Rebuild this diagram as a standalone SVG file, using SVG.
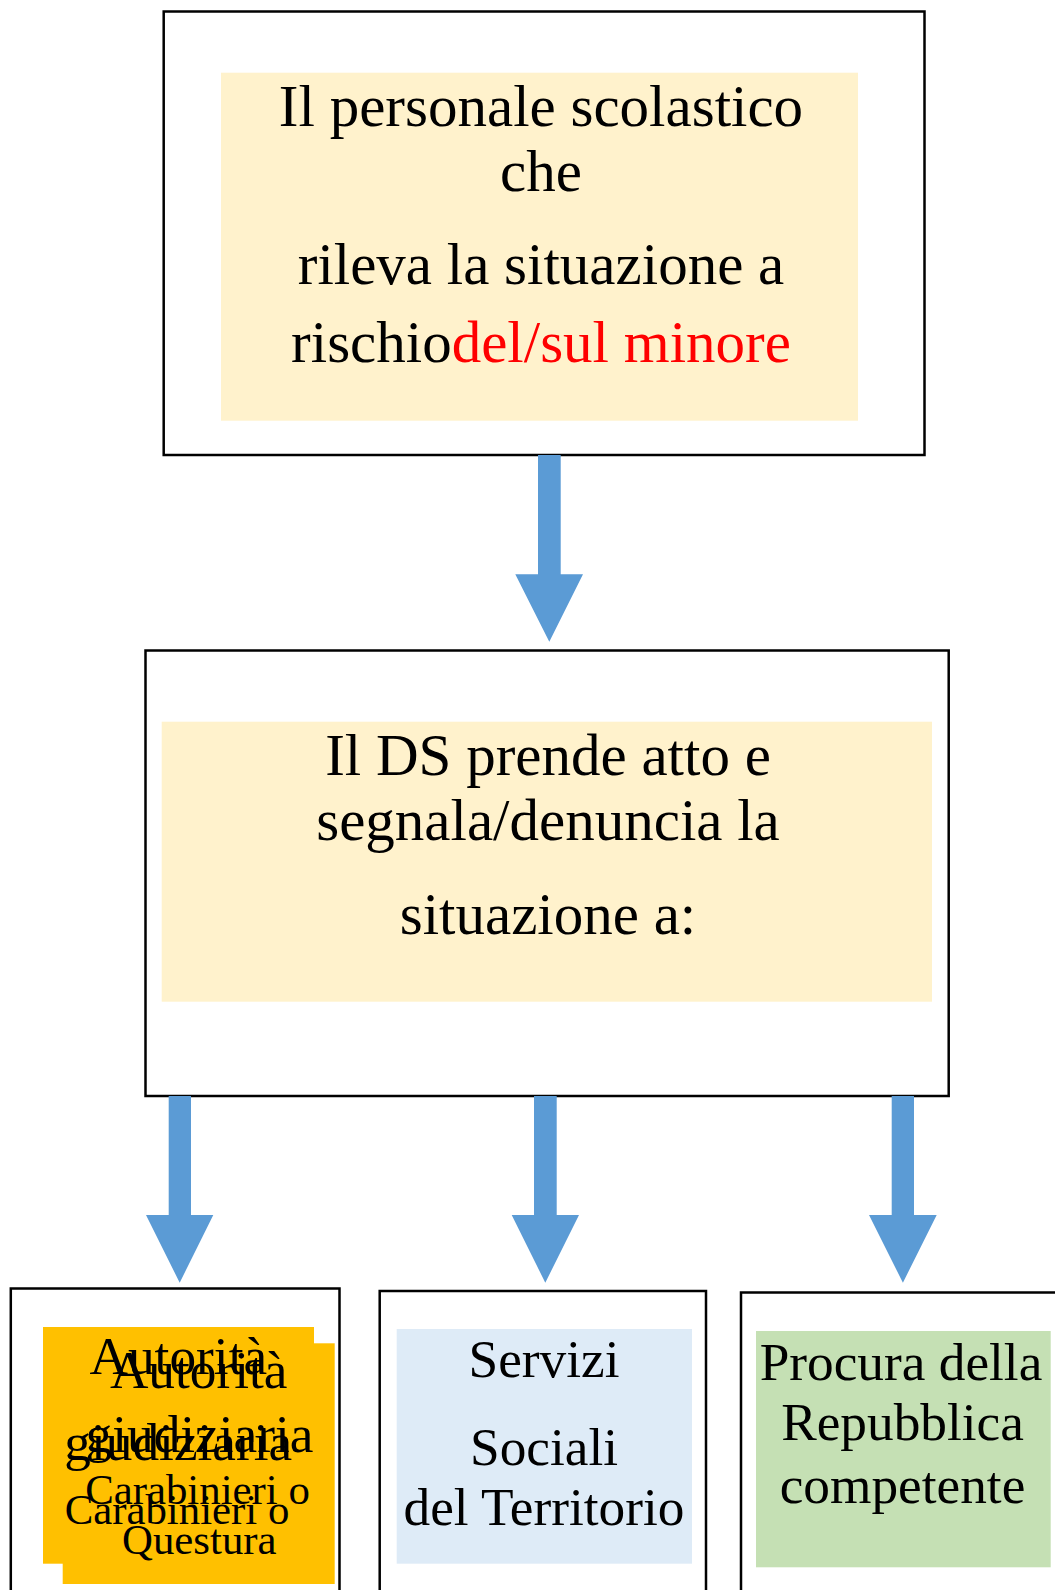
<svg xmlns="http://www.w3.org/2000/svg" width="1055" height="1590" viewBox="0 0 1055 1590">
<style>
.box{fill:#FFFFFF;stroke:#000000;stroke-width:2.5}
.t{font-family:"Liberation Serif","Times New Roman",serif;fill:#000000;text-anchor:middle}
.big{font-size:59px}
.mid{font-size:53.3px}
.sm{font-size:42.8px}
.arrow{fill:#5B9BD5}
</style>
<rect width="1055" height="1590" fill="#FFFFFF"/>
<g id="node-personale">
<rect class="box" x="163.7" y="11.5" width="760.8" height="443.5"/>
<rect x="221" y="72.7" width="637" height="348" fill="#FFF2CC"/>
<text class="t big" x="541" y="126">Il personale scolastico</text>
<text class="t big" x="541" y="190.7">che</text>
<text class="t big" x="541" y="284">rileva la situazione a</text>
<text class="t big" x="541" y="361.7">rischio<tspan fill="#FF0000">del/sul minore</tspan></text>
</g>
<g id="node-ds">
<rect class="box" x="145.5" y="650.5" width="803.2" height="445.5"/>
<rect x="161.7" y="721.7" width="770.3" height="280" fill="#FFF2CC"/>
<text class="t big" x="548" y="775">Il DS prende atto e</text>
<text class="t big" x="548" y="840">segnala/denuncia la</text>
<text class="t big" x="548" y="934">situazione a:</text>
</g>
<g id="node-autorita">
<rect class="box" x="10.8" y="1288.5" width="328.7" height="320"/>
<rect x="43" y="1327" width="271" height="236.7" fill="#FFC000"/>
<rect x="62.7" y="1343.3" width="272" height="240.7" fill="#FFC000"/>
<text class="t mid" x="178.3" y="1374.3">Autorità</text>
<text class="t mid" x="178.3" y="1460">giudiziaria</text>
<text class="t sm" x="177" y="1524">Carabinieri o</text>
<text class="t mid" x="198.7" y="1388.3">Autorità</text>
<text class="t mid" x="199.5" y="1451.7">giudiziaria</text>
<text class="t sm" x="197.5" y="1504">Carabinieri o</text>
<text class="t sm" x="199.3" y="1554">Questura</text>
</g>
<g id="node-servizi">
<rect class="box" x="379.7" y="1291" width="326.3" height="320"/>
<rect x="396.7" y="1329" width="295.3" height="234.7" fill="#DEEBF7"/>
<text class="t mid" x="544" y="1376.7">Servizi</text>
<text class="t mid" x="544" y="1465">Sociali</text>
<text class="t mid" x="544" y="1525">del Territorio</text>
</g>
<g id="node-procura">
<rect class="box" x="741" y="1292.5" width="330" height="320"/>
<rect x="756" y="1331" width="294.7" height="236.3" fill="#C5E0B4"/>
<text class="t mid" x="901" y="1380">Procura della</text>
<text class="t mid" x="902.5" y="1440">Repubblica</text>
<text class="t mid" x="902.5" y="1502.7">competente</text>
</g>
<g id="connectors">
<polygon class="arrow" points="538,455 560.7,455 560.7,574.3 583,574.3 549.3,641.7 515.3,574.3 538,574.3"/>
<polygon class="arrow" points="168.7,1096 191,1096 191,1215 213.3,1215 179.7,1282.7 146,1215 168.7,1215"/>
<polygon class="arrow" points="534,1096 556.7,1096 556.7,1215 579,1215 545.3,1282.7 511.7,1215 534,1215"/>
<polygon class="arrow" points="891.7,1096 914,1096 914,1215 936.7,1215 902.9,1282.7 869,1215 891.7,1215"/>
</g>
</svg>
